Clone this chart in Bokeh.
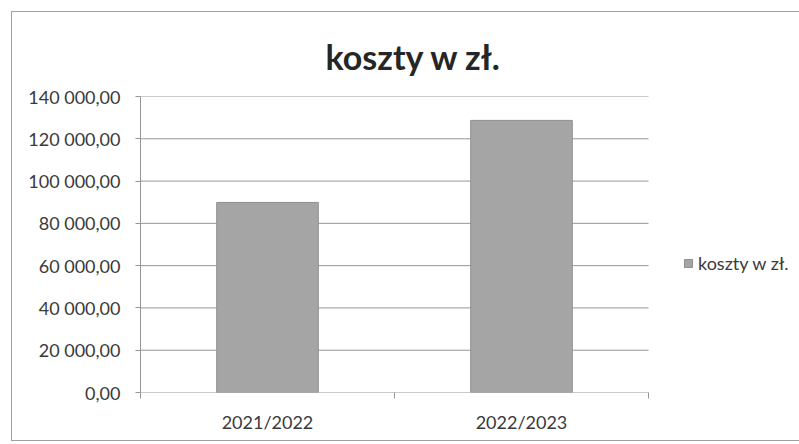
from bokeh.plotting import figure
from bokeh.models import (Range1d, LinearAxis, FixedTicker,
                          Legend, LegendItem, Title, ColumnDataSource)
from bokeh.embed import file_html
from bokeh.resources import INLINE

# ---- data ----
title_text = "koszty w zł."
series_name = "koszty w zł."
categories = ["2021/2022", "2022/2023"]
values = [89900, 128700]
y_ticks = [0, 20000, 40000, 60000, 80000, 100000, 120000, 140000]

def pl_format(v):
    s = f"{v:,.2f}"
    return s.replace(",", " ").replace(".", ",")

FONT = "Lato"
TXT = "#3a3a3a"
GRID = "#959595"

n = len(categories)
centers = [i + 0.5 for i in range(n)]

# layout constants (pixels)
FRAME_W = 660          # frame width (to canvas right edge)
CAT_PX = 254           # pixels per category in the plotting area
x_end = FRAME_W / CAT_PX

p = figure(width=788, height=430, output_backend="svg", toolbar_location=None,
           x_range=Range1d(0, x_end), y_range=Range1d(0, y_ticks[-1]),
           x_axis_location=None, y_axis_location=None,
           min_border_left=128, min_border_right=0, min_border_top=84, min_border_bottom=50)
p.styles = {"margin-left": "11px", "margin-top": "11px",
            "border-left": "1px solid #a0a0a0", "border-top": "1px solid #a0a0a0",
            "border-bottom": "1px solid #a0a0a0", "border-right": "none"}
p.outline_line_color = None
p.background_fill_color = "white"
p.border_fill_color = "white"

# gridlines over the category area only
p.segment(x0=[0] * len(y_ticks), x1=[n] * len(y_ticks), y0=y_ticks, y1=y_ticks,
          line_color=GRID, line_width=1)

src = ColumnDataSource(dict(x=centers, val=values, cat=categories))
r = p.vbar(x="x", top="val", width=0.4, source=src,
           fill_color="#a5a5a5", line_color="#8f8f8f", line_width=1)

# y axis
yax = LinearAxis(ticker=FixedTicker(ticks=y_ticks))
yax.major_label_overrides = {t: pl_format(t) for t in y_ticks}
yax.axis_line_color = GRID
yax.major_tick_line_color = GRID
yax.major_tick_in = 0
yax.major_tick_out = 5
yax.minor_tick_line_color = None
yax.major_label_standoff = 15
yax.major_label_text_font = FONT
yax.major_label_text_font_size = "18px"
yax.major_label_text_color = TXT
p.add_layout(yax, "left")

# x axis: boundary ticks
tax = LinearAxis(ticker=FixedTicker(ticks=list(range(n + 1))))
tax.major_label_overrides = {i: "" for i in range(n + 1)}
tax.axis_line_color = None
tax.major_tick_line_color = GRID
tax.major_tick_in = 0
tax.major_tick_out = 6
tax.minor_tick_line_color = None
tax.major_label_standoff = 0
p.add_layout(tax, "below")

# x axis: category labels
cax = LinearAxis(ticker=FixedTicker(ticks=centers))
cax.major_label_overrides = {c: lab for c, lab in zip(centers, categories)}
cax.axis_line_color = None
cax.major_tick_line_color = None
cax.minor_tick_line_color = None
cax.major_label_standoff = 6
cax.major_label_text_font = FONT
cax.major_label_text_font_size = "18px"
cax.major_label_text_color = TXT
p.add_layout(cax, "below")

p.xgrid.grid_line_color = None
p.ygrid.grid_line_color = None

t = Title(text=title_text, align="left", offset=185, text_font=FONT, text_font_size="34px",
          text_font_style="bold", text_color="#262626", standoff=40)
p.add_layout(t, "above")

leg = Legend(items=[LegendItem(label=series_name, renderers=[r])], location=(543, 118),
             padding=0, margin=0, spacing=0, glyph_width=10, glyph_height=10,
             label_height=10, label_standoff=5, label_text_font=FONT,
             label_text_font_size="18px", label_text_color=TXT,
             border_line_color=None, background_fill_alpha=0)
p.add_layout(leg, "center")

open("out.html", "w").write(file_html(p, INLINE))
